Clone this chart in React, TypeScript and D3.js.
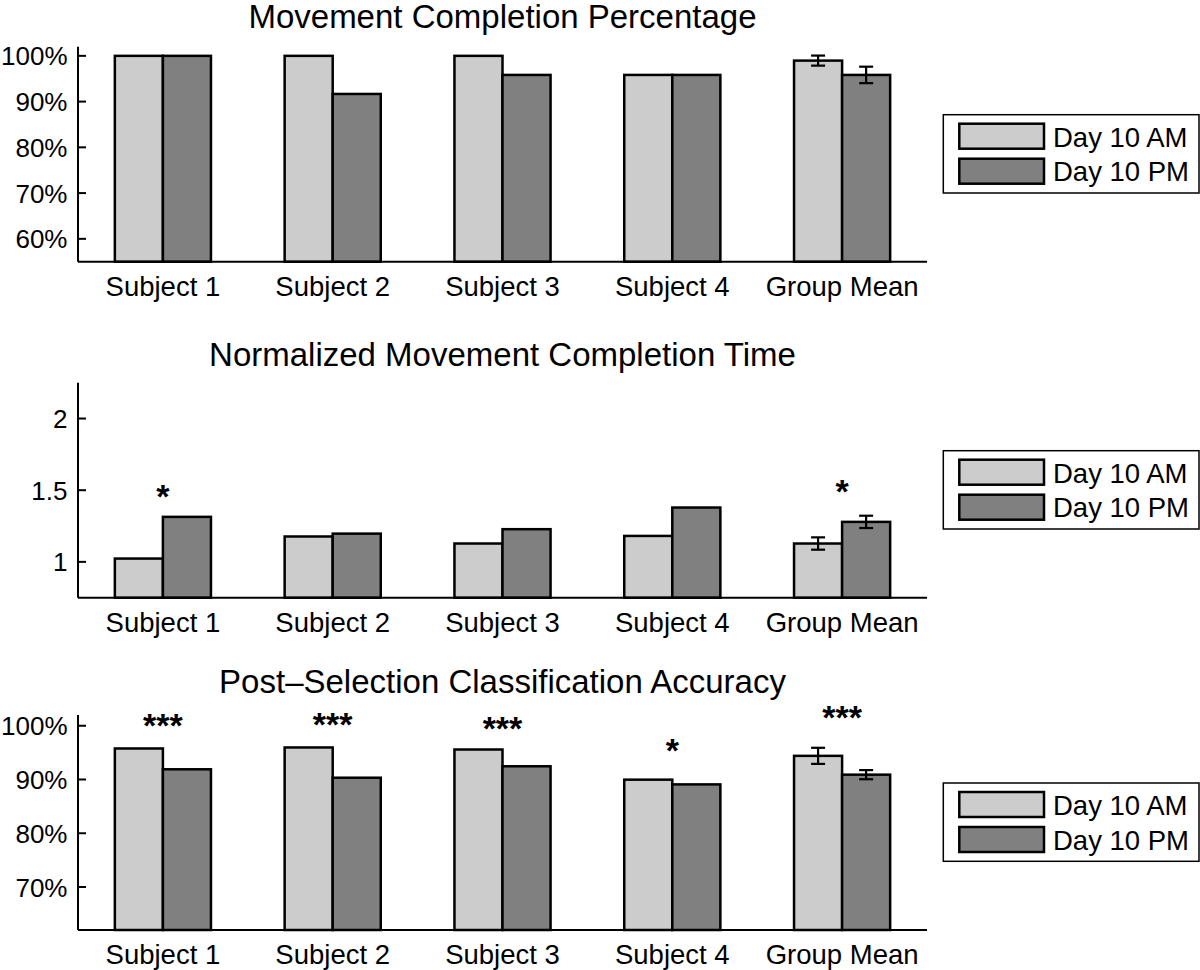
import React from "react";
import * as d3 from "d3";

// ---------- data ----------
const categories = ["Subject 1", "Subject 2", "Subject 3", "Subject 4", "Group Mean"];
const seriesNames = ["Day 10 AM", "Day 10 PM"];

const completionAM = [100, 100, 100, 95.83, 98.96];
const completionPM = [100, 91.67, 95.83, 95.83, 95.83];
const completionErrAM = [0, 0, 0, 0, 1.1];
const completionErrPM = [0, 0, 0, 0, 1.8];
const completionTicks = [60, 70, 80, 90, 100];

const timeAM = [1.023, 1.177, 1.128, 1.181, 1.128];
const timePM = [1.314, 1.197, 1.228, 1.379, 1.279];
const timeErrAM = [0, 0, 0, 0, 0.043];
const timeErrPM = [0, 0, 0, 0, 0.043];
const timeTicks = [1, 1.5, 2];
const timeSig = ["*", "", "", "", "*"];
const timeSigY = [1.51, 0, 0, 0, 1.545];

const accuracyAM = [95.77, 95.96, 95.58, 89.97, 94.4];
const accuracyPM = [91.9, 90.33, 92.46, 89.09, 90.9];
const accuracyErrAM = [0, 0, 0, 0, 1.5];
const accuracyErrPM = [0, 0, 0, 0, 0.85];
const accuracyTicks = [70, 80, 90, 100];
const accuracySig = ["***", "***", "***", "*", "***"];
const accuracySigY = [101.4, 101.7, 100.9, 96.8, 102.9];

// ---------- panel configs ----------
const FONT = "'Liberation Sans', Arial, Helvetica, sans-serif";
const COLORS = ["#cccccc", "#808080"];

type Panel = {
  title: string;
  top: number;
  titleY: number;
  domain: [number, number];
  ticks: number[];
  fmt: (v: number) => string;
  am: number[];
  pm: number[];
  errAm: number[];
  errPm: number[];
  sig?: string[];
  sigY?: number[];
};

const panels: Panel[] = [
  {
    title: "Movement Completion Percentage",
    top: 46.7,
    titleY: 28,
    domain: [55, 102],
    ticks: completionTicks,
    fmt: (v) => `${v}%`,
    am: completionAM,
    pm: completionPM,
    errAm: completionErrAM,
    errPm: completionErrPM,
  },
  {
    title: "Normalized Movement Completion Time",
    top: 382.7,
    titleY: 366,
    domain: [0.75, 2.25],
    ticks: timeTicks,
    fmt: (v) => `${v}`,
    am: timeAM,
    pm: timePM,
    errAm: timeErrAM,
    errPm: timeErrPM,
    sig: timeSig,
    sigY: timeSigY,
  },
  {
    title: "Post\u2013Selection Classification Accuracy",
    top: 715,
    titleY: 693,
    domain: [62, 102],
    ticks: accuracyTicks,
    fmt: (v) => `${v}%`,
    am: accuracyAM,
    pm: accuracyPM,
    errAm: accuracyErrAM,
    errPm: accuracyErrPM,
    sig: accuracySig,
    sigY: accuracySigY,
  },
];

const LEFT = 78;
const RIGHT = 927;
const HEIGHT = 215;
const BAR_W = 0.283; // in category units

function PanelView({ p }: { p: Panel }) {
  const x = d3.scaleLinear().domain([0.5, categories.length + 0.5]).range([LEFT, RIGHT]);
  const y = d3.scaleLinear().domain(p.domain).range([p.top + HEIGHT, p.top]);
  const bottom = p.top + HEIGHT;
  const series = [p.am, p.pm];
  const errs = [p.errAm, p.errPm];
  const bw = x(BAR_W) - x(0);
  const legendTop = p.top + 68;
  const legendLeft = 943.3;

  return (
    <g>
      <text x={(LEFT + RIGHT) / 2} y={p.titleY} textAnchor="middle" fontSize={33} fontFamily={FONT}>
        {p.title}
      </text>
      {/* bars */}
      {series.map((vals, s) =>
        vals.map((v, i) => {
          const cx = x(i + 1);
          const x0 = s === 0 ? cx - bw : cx;
          return (
            <rect
              key={`b${s}-${i}`}
              x={x0}
              y={y(v)}
              width={bw}
              height={bottom - y(v)}
              fill={COLORS[s]}
              stroke="#000"
              strokeWidth={2.5}
            />
          );
        })
      )}
      {/* error bars */}
      {series.map((vals, s) =>
        vals.map((v, i) => {
          const e = errs[s][i];
          if (!e) return null;
          const cx = x(i + 1) + (s === 0 ? -bw / 2 : bw / 2);
          const y1 = y(v + e);
          const y2 = y(v - e);
          return (
            <g key={`e${s}-${i}`} stroke="#000" strokeWidth={2.2}>
              <line x1={cx} x2={cx} y1={y1} y2={y2} />
              <line x1={cx - 7} x2={cx + 7} y1={y1} y2={y1} />
              <line x1={cx - 7} x2={cx + 7} y1={y2} y2={y2} />
            </g>
          );
        })
      )}
      {/* significance */}
      {p.sig &&
        p.sig.map((lab, i) =>
          lab ? (
            <text
              key={`s${i}`}
              x={x(i + 1)}
              y={y(p.sigY![i]) + 19}
              textAnchor="middle"
              fontSize={34}
              fontWeight="bold"
              fontFamily={FONT}
            >
              {lab}
            </text>
          ) : null
        )}
      {/* axes */}
      <line x1={LEFT} x2={RIGHT} y1={bottom} y2={bottom} stroke="#000" strokeWidth={2} />
      <line x1={LEFT} x2={LEFT} y1={p.top} y2={bottom} stroke="#000" strokeWidth={2} />
      {p.ticks.map((t) => (
        <g key={`t${t}`}>
          <line x1={LEFT} x2={LEFT + 8} y1={y(t)} y2={y(t)} stroke="#000" strokeWidth={2} />
          <text x={LEFT - 10.5} y={y(t) + 9.5} textAnchor="end" fontSize={26} fontFamily={FONT}>
            {p.fmt(t)}
          </text>
        </g>
      ))}
      {categories.map((c, i) => (
        <text key={c} x={x(i + 1)} y={bottom + 34} textAnchor="middle" fontSize={27.5} fontFamily={FONT}>
          {c}
        </text>
      ))}
      {/* legend */}
      <rect x={legendLeft} y={legendTop} width={255.7} height={78.3} fill="#fff" stroke="#000" strokeWidth={1.5} />
      {seriesNames.map((n, s) => (
        <g key={n}>
          <rect
            x={959.3}
            y={legendTop + 9 + s * 35}
            width={84.7}
            height={25}
            fill={COLORS[s]}
            stroke="#000"
            strokeWidth={2.5}
          />
          <text x={1053} y={legendTop + 32.3 + s * 34.4} fontSize={27.5} fontFamily={FONT}>
            {n}
          </text>
        </g>
      ))}
    </g>
  );
}

export default function App() {
  return (
    <div style={{ position: "absolute", left: 0, top: 0 }}>
      <svg width={1200} height={970} style={{ display: "block", background: "#fff" }}>
        <rect width={1200} height={970} fill="#fff" />
        {panels.map((p) => (
          <PanelView key={p.title} p={p} />
        ))}
      </svg>
    </div>
  );
}
